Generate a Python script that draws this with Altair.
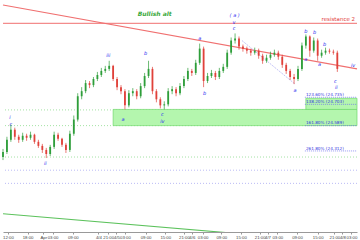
import json
import altair as alt
import pandas as pd

# ---- candle data (price) ----
close = [24.50, 24.62, 24.72, 24.65, 24.62, 24.66, 24.64, 24.67, 24.60, 24.56,
         24.52, 24.48, 24.55, 24.67, 24.63, 24.57, 24.52, 24.68, 24.82, 25.05,
         25.10, 25.18, 25.16, 25.22, 25.26, 25.30, 25.32, 25.35, 25.22, 25.14,
         25.10, 24.96, 25.08, 25.10, 25.05, 25.15, 25.25, 25.32, 25.10, 25.02,
         24.96, 24.97, 25.10, 25.12, 25.08, 25.15, 25.22, 25.30, 25.28, 25.38,
         25.52, 25.20, 25.25, 25.28, 25.24, 25.30, 25.34, 25.48, 25.60, 25.62,
         25.54, 25.52, 25.50, 25.48, 25.50, 25.45, 25.40, 25.43, 25.46, 25.48,
         25.44, 25.36, 25.30, 25.24, 25.22, 25.32, 25.55, 25.64, 25.50, 25.60,
         25.45, 25.48, 25.50, 25.49, 25.48, 25.32]
first_open = 24.45
high = [24.53, 24.65, 24.77, 24.74, 24.67, 24.69, 24.68, 24.70, 24.68, 24.62,
        24.58, 24.54, 24.57, 24.70, 24.69, 24.64, 24.59, 24.71, 24.86, 25.08,
        25.14, 25.21, 25.20, 25.24, 25.29, 25.33, 25.35, 25.40, 25.36, 25.24,
        25.16, 25.12, 25.11, 25.13, 25.12, 25.18, 25.28, 25.40, 25.34, 25.12,
        25.04, 25.00, 25.13, 25.15, 25.14, 25.18, 25.25, 25.33, 25.32, 25.41,
        25.57, 25.54, 25.28, 25.31, 25.30, 25.33, 25.37, 25.51, 25.63, 25.67,
        25.64, 25.56, 25.54, 25.52, 25.53, 25.52, 25.47, 25.46, 25.49, 25.51,
        25.50, 25.46, 25.38, 25.32, 25.27, 25.35, 25.58, 25.66, 25.65, 25.63,
        25.62, 25.51, 25.53, 25.52, 25.51, 25.50]
low = [24.42, 24.48, 24.60, 24.62, 24.59, 24.60, 24.61, 24.62, 24.58, 24.54,
       24.49, 24.44, 24.46, 24.53, 24.61, 24.55, 24.49, 24.50, 24.66, 24.80,
       25.02, 25.08, 25.13, 25.14, 25.20, 25.24, 25.28, 25.30, 25.20, 25.11,
       25.07, 24.92, 24.94, 25.05, 25.02, 25.03, 25.13, 25.23, 25.07, 24.99,
       24.93, 24.92, 24.95, 25.07, 25.05, 25.06, 25.13, 25.20, 25.25, 25.26,
       25.36, 25.14, 25.18, 25.23, 25.21, 25.22, 25.28, 25.32, 25.46, 25.57,
       25.51, 25.49, 25.47, 25.45, 25.46, 25.42, 25.37, 25.38, 25.41, 25.44,
       25.41, 25.33, 25.27, 25.21, 25.17, 25.20, 25.30, 25.52, 25.44, 25.48,
       25.40, 25.43, 25.46, 25.47, 25.46, 25.29]

# ---- x axis ticks ----
tick_vals = [1.25, 6.25, 10.25, 12.6, 17.75, 24.25, 26.75, 28.85, 31, 36.25,
             41.25, 46, 48, 50.75, 55.5, 60.5, 65.25, 67.25, 69.75, 74.75,
             80, 84.25, 86.3, 88.6]
tick_labels = ["12:00", "18:00", "Apr", "03:00", "09:00", "4/4", "21:00", "4/5",
               "03:00", "09:00", "15:00", "21:00", "4/6", "03:00", "09:00", "15:00",
               "21:00", "4/7", "03:00", "09:00", "15:00", "21:00", "4/8", "03:00"]

# ---- drawn objects ----
red_trend_t = [0, 90]
red_trend_p = [25.95, 25.32]
green_trend_t = [0, 58]
green_trend_p = [23.89, 23.70]
channel_t = [60.75, 74.25]
channel_p = [25.60, 25.17]
resistance = 25.77
green_dotted = [24.915, 24.76, 24.45]
lavender_dotted = [24.32, 24.19]
band = {"t": 28, "t2": 90, "p": 24.92, "p2": 24.76}
box = {"t": 77, "t2": 90, "p": 25.03, "p2": 24.92}
fib_labels = ["123.60% (24.735)", "138.20% (24.703)", "161.80% (24.589)", "261.80% (24.312)"]
fib_prices = [25.04, 24.97, 24.76, 24.51]

wave_text = ["i", "c", "ii", "iii", "a", "b", "c", "iv", "a", "b", "( a )", "v", "c",
             "a", "b", "a", "b", "a", "b", "c", "ii", "iv"]
wave_t = [1.75, 2, 10.75, 26.75, 30.5, 36.25, 40.5, 40.5, 50, 51.25, 58.9, 58.75, 58.75,
          74.25, 77, 77, 79.25, 80.5, 81.75, 84.5, 84.75, 89]
wave_p = [24.85, 24.78, 24.39, 25.46, 24.83, 25.48, 24.87, 24.81, 25.62, 25.08, 25.85, 25.78, 25.72,
          25.11, 25.69, 25.42, 25.68, 25.37, 25.57, 25.20, 25.14, 25.36]

# ---- tables ----
opens = [first_open] + close[:-1]
candles = pd.DataFrame({
    "t": list(range(len(close))),
    "open": opens, "close": close, "high": high, "low": low,
})
candles["dir"] = ["up" if c >= o else "down" for o, c in zip(opens, close)]

X = alt.Scale(domain=[0, 90], nice=False, zero=False)
Y = alt.Scale(domain=[23.71, 26.00], nice=False, zero=False)
label_expr = f"{json.dumps(tick_labels)}[indexof({json.dumps(tick_vals)}, datum.value)]"
xaxis = alt.Axis(values=tick_vals, labelExpr=label_expr, labelFontSize=4.3, labelColor="#444",
                 domainColor="#999", tickColor="#999", tickSize=2, grid=False, title=None,
                 labelOverlap=False, labelPadding=1.5, labelFlush=False, labelFont="Liberation Sans")
x_enc = alt.X("t:Q", scale=X, axis=xaxis)
y_none = dict(scale=Y, axis=None)

col = alt.Color("dir:N", scale=alt.Scale(domain=["up", "down"], range=["#2e9e3a", "#e0413a"]), legend=None)

hlines = pd.DataFrame({"p": green_dotted})
llines = pd.DataFrame({"p": lavender_dotted})
g_dot = alt.Chart(hlines).mark_rule(color="#8ddc8d", strokeDash=[1, 2], strokeWidth=0.8).encode(
    y=alt.Y("p:Q", **y_none))
l_dot = alt.Chart(llines).mark_rule(color="#a9a9f2", strokeDash=[1, 2], strokeWidth=0.8).encode(
    y=alt.Y("p:Q", **y_none))

rect_df = pd.DataFrame([band, box])
rects = alt.Chart(rect_df).mark_rect(fill="#b4f6ae", stroke="#6fd86a", strokeWidth=0.7).encode(
    x=x_enc, x2="t2:Q", y=alt.Y("p:Q", **y_none), y2="p2:Q")

fib_df = pd.DataFrame({"label": fib_labels, "p": fib_prices, "t": [76.75] * 4, "t2": [90] * 4})
fib_rule = alt.Chart(fib_df).mark_rule(color="#6b6bf0", strokeDash=[1, 1], strokeWidth=0.7).encode(
    x=x_enc, x2="t2:Q", y=alt.Y("p:Q", **y_none))
fib_txt = alt.Chart(fib_df).mark_text(align="left", baseline="bottom", fontSize=4.2, color="#3535e0",
                                      dx=1, dy=-0.3, font="DejaVu Sans").encode(
    x=x_enc, y=alt.Y("p:Q", **y_none), text="label:N")

res_df = pd.DataFrame({"p": [resistance], "t": [89.5], "label": ["resistance 2"]})
res_rule = alt.Chart(res_df).mark_rule(color="#f07070", strokeWidth=1).encode(y=alt.Y("p:Q", **y_none))
res_txt = alt.Chart(res_df).mark_text(align="right", baseline="bottom", fontSize=5.5, color="#e23a3a",
                                      dy=-1.5, font="DejaVu Sans").encode(
    x=x_enc, y=alt.Y("p:Q", **y_none), text="label:N")

red_df = pd.DataFrame({"t": red_trend_t, "p": red_trend_p})
red_line = alt.Chart(red_df).mark_line(color="#f07070", strokeWidth=1.1).encode(
    x=x_enc, y=alt.Y("p:Q", **y_none))
grn_df = pd.DataFrame({"t": green_trend_t, "p": green_trend_p})
grn_line = alt.Chart(grn_df).mark_line(color="#5cc25c", strokeWidth=1.1, clip=True).encode(
    x=x_enc, y=alt.Y("p:Q", **y_none))
ch_df = pd.DataFrame({"t": channel_t, "p": channel_p})
ch_line = alt.Chart(ch_df).mark_line(color="#b4b4f4", strokeWidth=0.8, strokeDash=[2, 1]).encode(
    x=x_enc, y=alt.Y("p:Q", **y_none))

bull_df = pd.DataFrame({"t": [34.25], "p": [25.86], "label": ["Bullish alt"]})
bull = alt.Chart(bull_df).mark_text(align="left", baseline="middle", fontSize=6, fontStyle="italic",
                                    fontWeight="bold", color="#3aa83a", font="DejaVu Sans").encode(
    x=x_enc, y=alt.Y("p:Q", **y_none), text="label:N")

wick = alt.Chart(candles).mark_rule(strokeWidth=0.7).encode(
    x=x_enc, y=alt.Y("low:Q", **y_none), y2="high:Q", color=col)
body = alt.Chart(candles).mark_rule(strokeWidth=1.8).encode(
    x=x_enc, y=alt.Y("open:Q", **y_none), y2="close:Q", color=col)

wave_df = pd.DataFrame({"t": wave_t, "p": wave_p, "label": wave_text})
waves = alt.Chart(wave_df).mark_text(fontSize=5, fontStyle="italic", color="#3030f0",
                                     baseline="middle", align="center", font="DejaVu Sans").encode(
    x=x_enc, y=alt.Y("p:Q", **y_none), text="label:N")

chart = alt.layer(
    g_dot, l_dot, rects, fib_rule, fib_txt, res_rule, res_txt, red_line, grn_line, ch_line,
    wick, body, waves, bull
).properties(
    width=360, height=240, padding=0,
    autosize=alt.AutoSizeParams(type="fit", contains="padding"),
    background="white"
).configure_view(stroke=None)

chart.save("out.html", embed_options={"renderer": "svg", "actions": False})
